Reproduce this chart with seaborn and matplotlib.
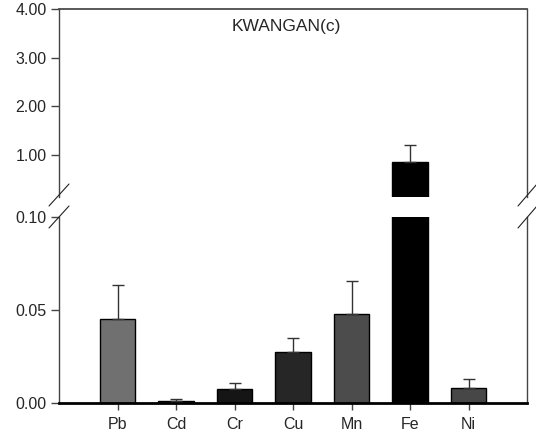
import numpy as np
import pandas as pd
import matplotlib
matplotlib.use('Agg')
import matplotlib.pyplot as plt
import seaborn as sns
from matplotlib.lines import Line2D

sns.set_theme(style='white')
plt.rcParams['font.family'] = ['Liberation Sans', 'DejaVu Sans']

# data
metals = ['Pb', 'Cd', 'Cr', 'Cu', 'Mn', 'Fe', 'Ni']
means = [0.045, 0.0012, 0.0074, 0.0272, 0.0477, 0.86, 0.0082]
errors = [0.0183, 0.0008, 0.0035, 0.0076, 0.0177, 0.35, 0.0047]
bar_colors = ['#707070', '#5a5a5a', '#151515', '#262626', '#4c4c4c', '#000000', '#474747']

df = pd.DataFrame({'metal': metals, 'mean': means, 'err': errors})

W, H = 536, 440
fig = plt.figure(figsize=(W / 100, H / 100), dpi=100)
ax_top = fig.add_axes([59 / W, 1 - 197 / H, 468 / W, 188 / H])
ax_bot = fig.add_axes([59 / W, 1 - 403 / H, 468 / W, 186 / H])

pos = np.arange(len(metals))
for ax in (ax_top, ax_bot):
    sns.barplot(data=df, x='metal', y='mean', hue='metal', palette=bar_colors,
                legend=False, width=0.6, edgecolor='black', linewidth=1.0,
                saturation=1, errorbar=None, ax=ax)
    ax.errorbar(pos, df['mean'], yerr=[np.zeros(len(pos)), df['err']], fmt='none',
                ecolor='#333333', elinewidth=1.0, capsize=4, capthick=1.0, zorder=3)
    ax.set_xlim(-1, 7)
    ax.set_xlabel('')
    ax.set_ylabel('')
    ax.set_facecolor('white')
    for s in ('left', 'right'):
        ax.spines[s].set_color('#444444')
        ax.spines[s].set_linewidth(1.0)
    ax.tick_params(axis='y', direction='out', length=6, width=1, color='#444444',
                   labelsize=11.5, pad=3, left=True)
    ax.tick_params(axis='x', direction='out', length=5, width=1, color='#444444',
                   labelsize=11.5, pad=5, bottom=True)

ax_top.set_ylim(0.14, 4.0)
ax_top.set_yticks([1, 2, 3, 4])
ax_top.set_yticklabels(['1.00', '2.00', '3.00', '4.00'])
ax_top.spines['bottom'].set_visible(False)
ax_top.spines['top'].set_color('#444444')
ax_top.tick_params(axis='x', bottom=False, labelbottom=False)
ax_top.text(0.486, 0.905, 'KWANGAN(c)', transform=ax_top.transAxes, ha='center',
            va='center', fontsize=12.5)

ax_bot.set_ylim(0, 0.10)
ax_bot.set_yticks([0, 0.05, 0.10])
ax_bot.set_yticklabels(['0.00', '0.05', '0.10'])
ax_bot.spines['top'].set_visible(False)
ax_bot.spines['bottom'].set_color('black')
ax_bot.spines['bottom'].set_linewidth(2.0)

# break marks
for x0, x1 in ((49, 69), (518, 537)):
    for y0, y1 in ((206, 184), (228, 206)):
        fig.add_artist(Line2D([x0 / W, x1 / W], [1 - y0 / H, 1 - y1 / H],
                              color='#222222', linewidth=0.8))

fig.savefig('out.png', dpi=100, facecolor='white')
